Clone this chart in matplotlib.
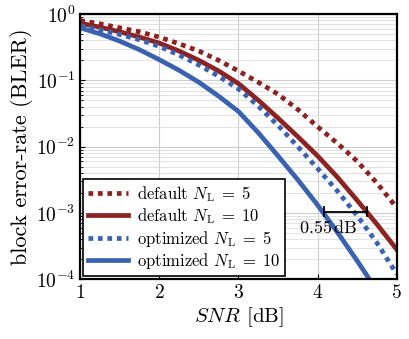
import numpy as np
import matplotlib
matplotlib.use("Agg")
import matplotlib.pyplot as plt

plt.rcParams["font.family"] = "serif"
plt.rcParams["font.serif"] = ["cmr10"]
plt.rcParams["mathtext.fontset"] = "cm"
plt.rcParams["axes.formatter.use_mathtext"] = True

# SNR in dB
snr = [1.0, 1.25, 1.5, 1.75, 2.0, 2.25, 2.5, 2.75, 3.0,
       3.25, 3.5, 3.75, 4.0, 4.25, 4.5, 4.75, 5.0]

# log10(BLER)
default_5 = [-0.10, -0.15, -0.21, -0.27, -0.35, -0.45, -0.56, -0.70, -0.86,
             -1.03, -1.21, -1.44, -1.70, -1.95, -2.22, -2.55, -2.92]
default_10 = [-0.14, -0.20, -0.27, -0.35, -0.44, -0.56, -0.70, -0.86, -1.05,
              -1.30, -1.57, -1.85, -2.14, -2.46, -2.81, -3.17, -3.55]
optimized_5 = [-0.18, -0.24, -0.31, -0.39, -0.49, -0.62, -0.77, -0.94, -1.13,
               -1.39, -1.68, -2.00, -2.33, -2.67, -3.04, -3.45, -3.92]
optimized_10 = [-0.21, -0.30, -0.41, -0.54, -0.69, -0.85, -1.03, -1.24, -1.47,
                -1.79, -2.14, -2.50, -2.88, -3.29, -3.72, -4.17, -4.65]

labels = [r"default $N_\mathrm{L}\;=\;5$", r"default $N_\mathrm{L}\;=\;10$",
          r"optimized $N_\mathrm{L}\;=\;5$", r"optimized $N_\mathrm{L}\;=\;10$"]

# gap annotation at BLER = 1e-3
gap_x = [4.08, 4.62]
gap_y = 1.05e-3
gap_text = r"$0.55\,\mathrm{dB}$"

red = "#8b2323"
blue = "#3a62b0"

fig = plt.figure(figsize=(4.09, 3.39), dpi=100)
ax = fig.add_axes([0.196, 0.176, 0.774, 0.783])

dot = (0, (1, 1))
lw = 3.4
ax.plot(snr, 10 ** np.array(default_5), color=red, lw=lw, ls=dot, dash_capstyle="butt", label=labels[0])
ax.plot(snr, 10 ** np.array(default_10), color=red, lw=lw, label=labels[1])
ax.plot(snr, 10 ** np.array(optimized_5), color=blue, lw=lw, ls=dot, dash_capstyle="butt", label=labels[2])
ax.plot(snr, 10 ** np.array(optimized_10), color=blue, lw=lw, label=labels[3])

# bracket
ax.plot(gap_x, [gap_y, gap_y], color="black", lw=1.3)
for gx in gap_x:
    ax.plot([gx, gx], [gap_y * 0.85, gap_y * 1.18], color="black", lw=1.3)
ax.text(4.14, gap_y * 0.76, gap_text, ha="center", va="top", fontsize=13)

ax.set_yscale("log")
ax.set_xlim(1, 5)
ax.set_ylim(1e-4, 1)
ax.set_xticks([1, 2, 3, 4, 5])
ax.grid(True, which="major", color="#cccccc", lw=0.8)
ax.grid(True, which="minor", axis="y", color="#dddddd", lw=0.6)
ax.tick_params(which="both", direction="in", labelsize=14)
ax.tick_params(which="minor", length=2)
for s in ax.spines.values():
    s.set_linewidth(1.6)

ax.set_xlabel(r"$\mathit{SNR}$ [dB]", fontsize=15, labelpad=2)
ax.set_ylabel("block error-rate (BLER)", fontsize=16, labelpad=2)

leg = ax.legend(loc="lower left", fontsize=12, fancybox=False, framealpha=1,
                edgecolor="black", handlelength=2.4, handletextpad=0.5,
                borderpad=0.3, labelspacing=0.15, borderaxespad=0.2)
leg.get_frame().set_linewidth(1.2)

fig.savefig("out.png", dpi=100)
